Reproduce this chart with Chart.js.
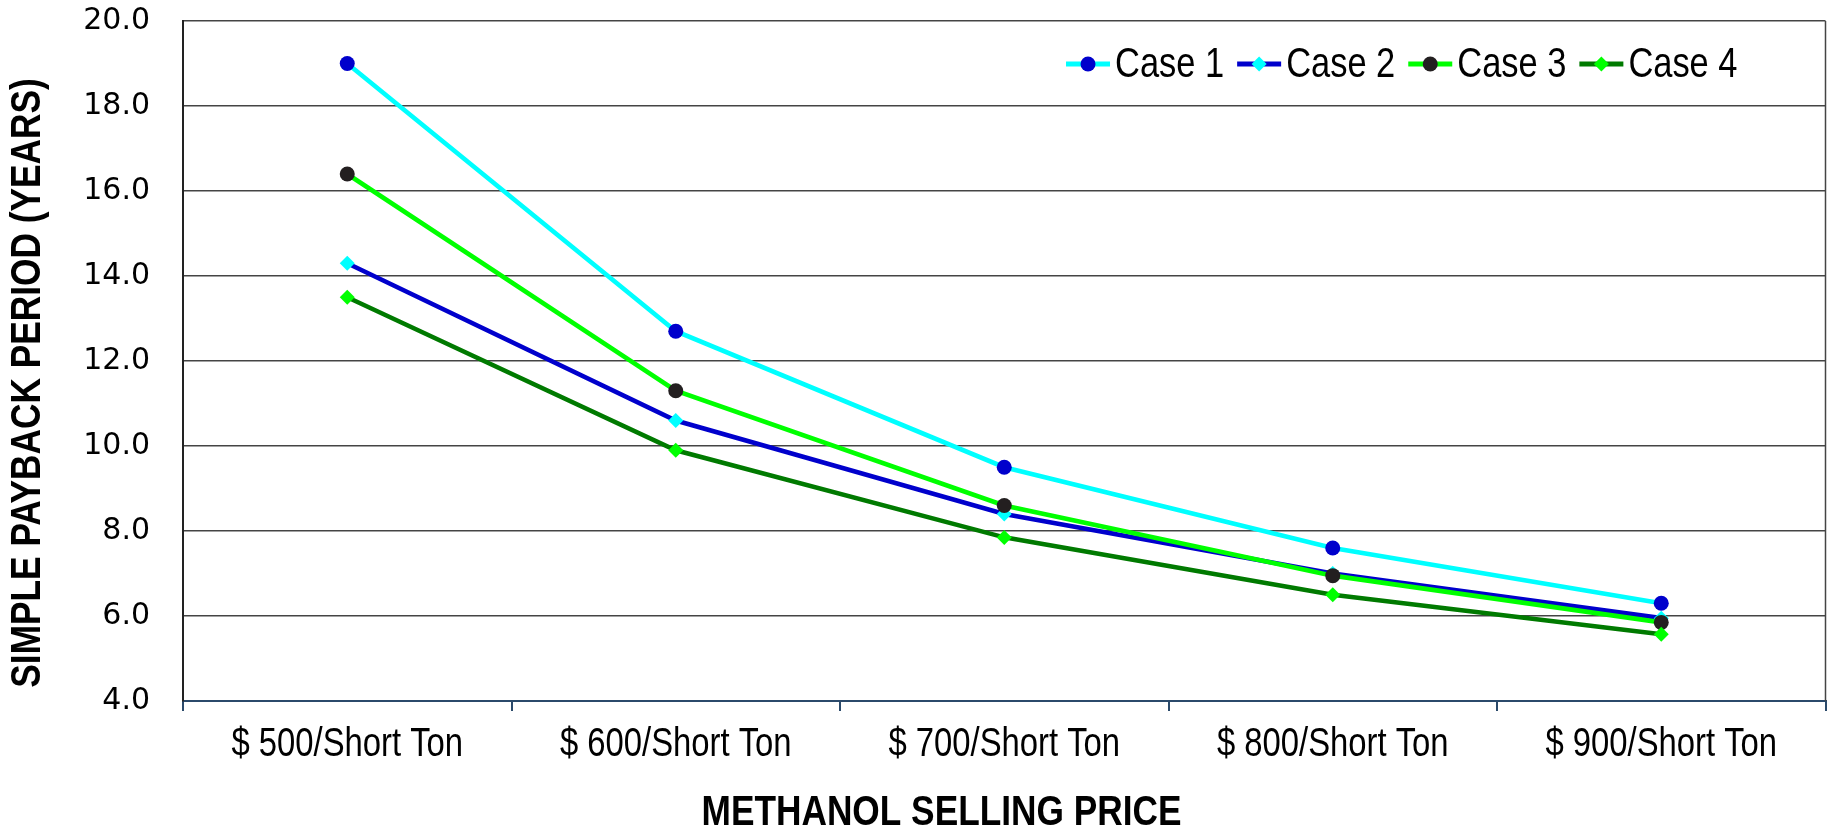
<!DOCTYPE html>
<html>
<head>
<meta charset="utf-8">
<script src="https://cdn.jsdelivr.net/npm/chart.js@4.4.0/dist/chart.umd.min.js"></script>
<style>
  html, body { margin: 0; padding: 0; background: #ffffff; }
  #wrap { width: 1833px; height: 834px; }
</style>
</head>
<body>
<div id="wrap"><canvas id="payback" width="1833" height="834"></canvas></div>
<script>
// Methanol selling price categories
const priceLabels = ['$ 500/Short Ton', '$ 600/Short Ton', '$ 700/Short Ton', '$ 800/Short Ton', '$ 900/Short Ton'];

// Simple payback period (years) per case
const case1 = [19.0, 12.7, 9.5, 7.6, 6.3];
const case2 = [14.3, 10.6, 8.4, 7.0, 5.95];
const case3 = [16.4, 11.3, 8.6, 6.95, 5.85];
const case4 = [13.5, 9.9, 7.85, 6.5, 5.57];

const seriesNames = ['Case 1', 'Case 2', 'Case 3', 'Case 4'];

// Value axis range
const yMin = 4;
const yMax = 20;
const yStep = 2;

const xTitle = 'METHANOL SELLING PRICE';
const yTitle = 'SIMPLE PAYBACK PERIOD (YEARS)';

// Narrow type is drawn as Liberation Sans squeezed horizontally
const SANS = '"Liberation Sans", Arial, sans-serif';
const SQUEEZE = 0.82;

const styles = [
  { line: '#00FFFF', point: '#0000CC', shape: 'circle',  r: 7.5 },
  { line: '#0000CC', point: '#00FFFF', shape: 'rectRot', r: 7.5 },
  { line: '#00FF00', point: '#231F20', shape: 'circle',  r: 7.5 },
  { line: '#007A00', point: '#00FF00', shape: 'rectRot', r: 7.5 }
];

const seriesData = [case1, case2, case3, case4];

const datasets = seriesData.map((vals, i) => ({
  label: seriesNames[i],
  data: vals,
  borderColor: styles[i].line,
  backgroundColor: styles[i].point,
  pointBackgroundColor: styles[i].point,
  pointBorderColor: styles[i].point,
  pointBorderWidth: 0,
  pointStyle: styles[i].shape,
  pointRadius: styles[i].r,
  borderWidth: 4.6,
  tension: 0,
  fill: false,
  order: seriesData.length - i
}));

function narrowText(ctx, text, x, y, font, align) {
  ctx.save();
  ctx.font = font;
  ctx.textAlign = align;
  ctx.textBaseline = 'middle';
  ctx.translate(x, y);
  ctx.scale(SQUEEZE, 1);
  ctx.fillText(text, 0, 0);
  ctx.restore();
}

function narrowWidth(ctx, text, font) {
  ctx.save();
  ctx.font = font;
  const w = ctx.measureText(text).width * SQUEEZE;
  ctx.restore();
  return w;
}

// Right-hand frame line of the plot area
const frameRight = {
  id: 'frameRight',
  afterDraw(chart) {
    const { ctx, chartArea } = chart;
    ctx.save();
    ctx.strokeStyle = '#444444';
    ctx.lineWidth = 1.5;
    ctx.beginPath();
    ctx.moveTo(chartArea.right, chartArea.top);
    ctx.lineTo(chartArea.right, chartArea.bottom);
    ctx.stroke();
    ctx.restore();
  }
};

// Category labels under the x axis, placed at the scale's own pixel positions
const categoryLabels = {
  id: 'categoryLabels',
  afterDraw(chart) {
    const { ctx, chartArea } = chart;
    const xs = chart.scales.x;
    ctx.save();
    ctx.fillStyle = '#000000';
    chart.data.labels.forEach((lab, i) => {
      narrowText(ctx, lab, xs.getPixelForValue(i), chartArea.bottom + 44, '40px ' + SANS, 'center');
    });
    ctx.restore();
  }
};

// Axis titles in bold narrow type
const axisTitles = {
  id: 'axisTitles',
  afterDraw(chart) {
    const { ctx, chartArea } = chart;
    const font = 'bold 43px ' + SANS;
    ctx.save();
    ctx.fillStyle = '#000000';
    narrowText(ctx, xTitle, chart.width / 2 + 25, chart.height - 21, font, 'center');
    ctx.translate(28, (chartArea.top + chartArea.bottom) / 2 + 22);
    ctx.rotate(-Math.PI / 2);
    narrowText(ctx, yTitle, 0, 0, font, 'center');
    ctx.restore();
  }
};

// Legend row inside the plot area: line sample with marker, then series name
const insideLegend = {
  id: 'insideLegend',
  afterDraw(chart) {
    const { ctx, chartArea } = chart;
    const font = '42px ' + SANS;
    const sampleW = 44, gapText = 5, gapItem = 13;
    const items = chart.data.datasets.map(ds => ({ ds, tw: narrowWidth(ctx, ds.label, font) }));
    const total = items.reduce((s, it) => s + sampleW + gapText + it.tw, 0) + gapItem * (items.length - 1);
    let x = chartArea.right - 88 - total;
    const y = chartArea.top + 43;
    ctx.save();
    items.forEach(({ ds, tw }) => {
      ctx.strokeStyle = ds.borderColor;
      ctx.lineWidth = 5;
      ctx.beginPath();
      ctx.moveTo(x, y);
      ctx.lineTo(x + sampleW, y);
      ctx.stroke();
      const cx = x + sampleW / 2, r = ds.pointRadius;
      ctx.fillStyle = ds.pointBackgroundColor;
      ctx.beginPath();
      if (ds.pointStyle === 'circle') {
        ctx.arc(cx, y, r, 0, Math.PI * 2);
      } else {
        ctx.moveTo(cx - r, y); ctx.lineTo(cx, y - r); ctx.lineTo(cx + r, y); ctx.lineTo(cx, y + r); ctx.closePath();
      }
      ctx.fill();
      ctx.fillStyle = '#000000';
      narrowText(ctx, ds.label, x + sampleW + gapText, y + 1, font, 'left');
      x += sampleW + gapText + tw + gapItem;
    });
    ctx.restore();
  }
};

new Chart(document.getElementById('payback'), {
  type: 'line',
  data: { labels: priceLabels, datasets },
  options: {
    responsive: false,
    devicePixelRatio: 1,
    animation: false,
    layout: { padding: { top: 21, right: 5, left: 0, bottom: 0 } },
    plugins: {
      legend: { display: false },
      tooltip: { enabled: false },
      title: { display: false }
    },
    scales: {
      x: {
        type: 'category',
        offset: true,
        grid: {
          offset: true,
          drawOnChartArea: false,
          drawTicks: true,
          tickLength: 10,
          color: '#2B4A6B',
          lineWidth: 2
        },
        border: { color: '#2B4A6B', width: 2 },
        ticks: { display: false, autoSkip: false },
        afterFit(scale) {
          scale.height = 133;
          scale.paddingLeft = 0;
          scale.paddingRight = 0;
        }
      },
      y: {
        min: yMin,
        max: yMax,
        grid: { color: '#444444', lineWidth: 1.5, drawTicks: false },
        border: { color: '#222222', width: 2 },
        ticks: {
          stepSize: yStep,
          color: '#000000',
          font: { family: '"DejaVu Sans", sans-serif', size: 30 },
          padding: 33,
          callback: v => Number(v).toFixed(1)
        },
        afterFit(scale) {
          scale.width = 183;
          scale.paddingTop = 0;
          scale.paddingBottom = 0;
        }
      }
    }
  },
  plugins: [frameRight, categoryLabels, axisTitles, insideLegend]
});
</script>
</body>
</html>
